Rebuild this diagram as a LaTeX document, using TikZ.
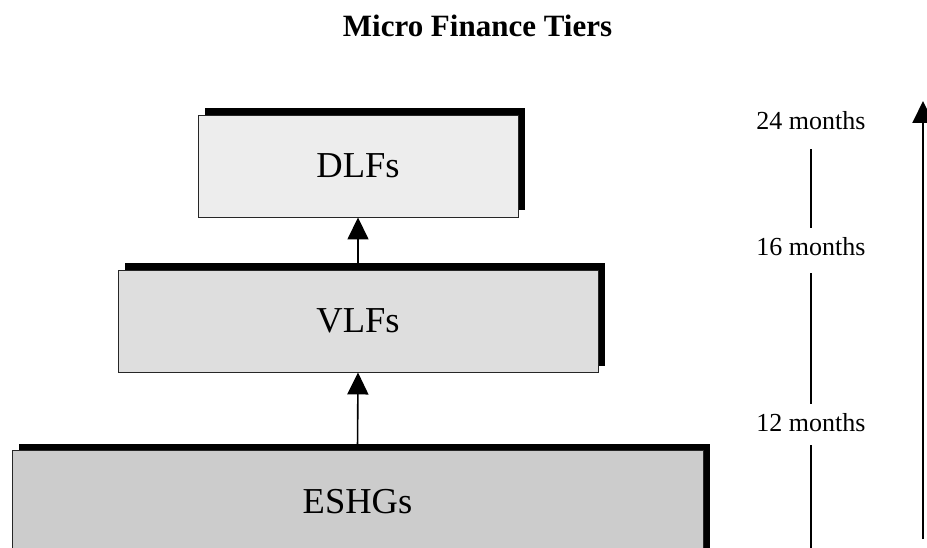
\documentclass[tikz,border=0pt]{standalone}
\usepackage{fontspec}
\setmainfont{Liberation Serif}
\usetikzlibrary{shadows,arrows.meta}
\begin{document}
\begin{tikzpicture}[x=1pt,y=-1pt,
  tier/.style={draw=black!85, line width=0.9pt,
    general shadow={fill=black, shadow xshift=7pt, shadow yshift=6.5pt},
    inner sep=0pt, font=\fontsize{36.5}{40}\selectfont},
  link/.style={line width=1.6pt, -{Triangle[length=22pt,width=21pt]}},
  month/.style={font=\fontsize{26}{30}\selectfont, inner sep=0pt, anchor=base},
  guide/.style={line width=1.8pt}]
\useasboundingbox (0,0) rectangle (927,548);
\node[font=\bfseries\fontsize{31}{34}\selectfont, anchor=base, inner sep=0pt] (title) at (477.5,37) {Micro Finance Tiers};
\node[tier, fill=black!7, minimum width=320pt, minimum height=102pt] (dlf) at (358,166) {DLFs};
\node[tier, fill=black!13, minimum width=480pt, minimum height=102pt] (vlf) at (358,321) {VLFs};
\node[tier, fill=black!20, minimum width=691pt, minimum height=104pt] (eshg) at (357.5,502) {ESHGs};
\draw[link] (vlf.north) -- (dlf.south);
\draw[link] (eshg.north) -- (vlf.south);
\coordinate (tbot) at (923,539);
\coordinate (ttop) at (923,101);
\draw[link, line width=2pt] (tbot) -- (ttop);
\node[month] (m24) at (811,130) {24 months};
\node[month] (m16) at (811,256) {16 months};
\node[month] (m12) at (811,431) {12 months};
\coordinate (mend) at (811,560);
\draw[guide, shorten <=19pt, shorten >=10pt] (m24.south) -- (m16.north);
\draw[guide, shorten <=17pt, shorten >=9pt] (m16.south) -- (m12.north);
\draw[guide, shorten <=14pt] (m12.south) -- (mend);
\end{tikzpicture}
\end{document}
